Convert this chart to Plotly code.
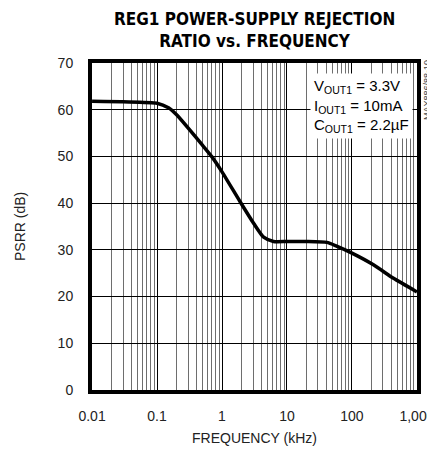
import plotly.graph_objects as go

# Data
freq_khz = [0.01, 0.03, 0.1, 0.15, 0.2, 0.5, 0.7, 1, 1.9, 3.06, 4.37, 6.2, 10, 20, 41, 58, 100, 214, 436, 1000]
psrr_db = [61.8, 61.7, 61.4, 60.4, 58.9, 52.4, 49.9, 46.7, 40.3, 35.7, 32.7, 31.8, 31.8, 31.8, 31.6, 30.8, 29.3, 26.8, 23.9, 21.0]

x_tickvals = [0.01, 0.1, 1, 10, 100, 1000]
x_ticktext = ["0.01", "0.1", "1", "10", "100", "1,000"]
x_minor_vals = [m * 10 ** e for e in range(-2, 3) for m in range(2, 10)]
y_tickvals = [0, 10, 20, 30, 40, 50, 60, 70]

title_text = "<b>REG1 POWER-SUPPLY REJECTION<br>RATIO vs. FREQUENCY</b>"
x_title = "FREQUENCY (kHz)"
y_title = "PSRR (dB)"
note_text = ("V<sub>OUT1</sub> = 3.3V<br>I<sub>OUT1</sub> = 10mA<br>"
             "C<sub>OUT1</sub> = 2.2\u00b5F")
code_text = "MAX886/88-10"

FONT = "Liberation Sans, Arial, sans-serif"
TFONT = "DejaVu Sans Condensed, Liberation Sans, Arial, sans-serif"

# page body offset (default 8px margin of the html page)
OFF = 8
W, H = 435 - OFF, 450 - OFF
# plot area in screenshot coordinates: x 92..417, y 63..390
L, R, T, B = 92 - OFF, 435 - 417, 63 - OFF, 450 - 390
PW, PH = W - L - R, H - T - B


def px(x):
    return (x - OFF - L) / PW


def py(y):
    return (H - B - (y - OFF)) / PH


fig = go.Figure()
fig.add_trace(go.Scatter(x=freq_khz, y=psrr_db, mode="lines",
                         line=dict(color="black", width=3.5, shape="spline", smoothing=0.6),
                         showlegend=False, hoverinfo="skip"))

fig.update_layout(
    width=W, height=H,
    margin=dict(l=L, r=R, t=T, b=B, autoexpand=False),
    paper_bgcolor="white", plot_bgcolor="white",
    font=dict(family=FONT, size=14, color="#222"),
    showlegend=False,
)
fig.update_xaxes(
    type="log", range=[-2.001, 3.001], automargin=False,
    tickvals=x_tickvals, ticktext=x_ticktext,
    showgrid=True, gridcolor="black", gridwidth=1.4,
    minor=dict(tickvals=x_minor_vals, showgrid=True, gridcolor="#6e6e6e", gridwidth=1.4, ticks=""),
    showline=True, linecolor="black", linewidth=4, mirror=True,
    ticks="", zeroline=False, ticklabelstandoff=10,
    tickfont=dict(family=FONT, size=14, color="#222"),
)
fig.update_yaxes(
    range=[0, 70], tickvals=y_tickvals, automargin=False,
    showgrid=True, gridcolor="black", gridwidth=1.4,
    showline=True, linecolor="black", linewidth=4, mirror=True,
    ticks="", zeroline=False, ticklabelstandoff=12,
    tickfont=dict(family=FONT, size=14, color="#222"),
)

fig.add_annotation(text=title_text, xref="paper", yref="paper",
                   x=px(255), y=py(8), xanchor="center", yanchor="top",
                   showarrow=False, align="center", borderpad=0,
                   font=dict(family=TFONT, size=17, color="black"))
fig.add_annotation(text=x_title, xref="paper", yref="paper",
                   x=px(254), y=py(438), xanchor="center", yanchor="middle",
                   showarrow=False, font=dict(family=FONT, size=14, color="#222"))
fig.add_annotation(text=y_title, xref="paper", yref="paper",
                   x=px(20), y=py(227), xanchor="center", yanchor="middle",
                   textangle=-90, showarrow=False,
                   font=dict(family=FONT, size=14, color="#222"))
fig.add_annotation(text=note_text, xref="paper", yref="paper",
                   x=px(413), y=py(73), xanchor="right", yanchor="top",
                   align="left", showarrow=False, bgcolor="white", borderpad=3,
                   font=dict(family=FONT, size=15, color="black"))
fig.add_annotation(text=code_text, xref="paper", yref="paper",
                   x=px(427), y=py(90), xanchor="center", yanchor="middle",
                   textangle=-90, showarrow=False,
                   font=dict(family=FONT, size=9, color="#444"))

fig.write_html("out.html")
